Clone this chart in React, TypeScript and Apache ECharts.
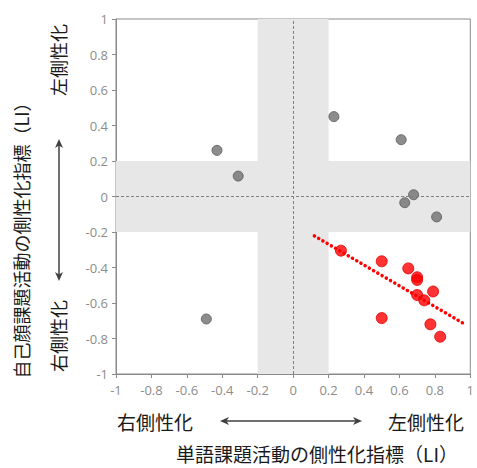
import React, { useEffect, useRef } from "react";
import * as echarts from "echarts";

const grayPoints: [number, number][] = [
  [-0.43, 0.26],
  [-0.31, 0.115],
  [0.23, 0.45],
  [0.61, 0.32],
  [0.68, 0.01],
  [0.63, -0.035],
  [0.81, -0.115],
  [-0.49, -0.69],
];

const redPoints: [number, number][] = [
  [0.27, -0.305],
  [0.5, -0.365],
  [0.65, -0.405],
  [0.7, -0.455],
  [0.7, -0.47],
  [0.79, -0.535],
  [0.7, -0.555],
  [0.74, -0.585],
  [0.5, -0.685],
  [0.775, -0.72],
  [0.83, -0.79],
];

const trendLine: [number, number][] = [
  [0.12, -0.222],
  [0.97, -0.72],
];

const neutralBand: [number, number] = [-0.2, 0.2];

const xTitle = "単語課題活動の側性化指標（LI）";
const yTitle = "自己顔課題活動の側性化指標（LI）";
const leftLabel = "左側性化";
const rightLabel = "右側性化";

const CJK = '"Noto Sans CJK JP", "Noto Sans", sans-serif';
const NUM = '"Open Sans", "Noto Sans", sans-serif';
const ARROW = "#404040";

function vArrow(x: number, y1: number, y2: number) {
  return [
    { type: "line", shape: { x1: x, y1: y1 + 4, x2: x, y2: y2 - 4 }, style: { stroke: ARROW, lineWidth: 1.5 } },
    { type: "polygon", shape: { points: [[x, y1], [x - 4, y1 + 9], [x, y1 + 6.5], [x + 4, y1 + 9]] }, style: { fill: ARROW } },
    { type: "polygon", shape: { points: [[x, y2], [x - 4, y2 - 9], [x, y2 - 6.5], [x + 4, y2 - 9]] }, style: { fill: ARROW } },
  ];
}

function hArrow(y: number, x1: number, x2: number) {
  return [
    { type: "line", shape: { x1: x1 + 4, y1: y, x2: x2 - 4, y2: y }, style: { stroke: ARROW, lineWidth: 1.5 } },
    { type: "polygon", shape: { points: [[x1, y], [x1 + 9, y - 4], [x1 + 6.5, y], [x1 + 9, y + 4]] }, style: { fill: ARROW } },
    { type: "polygon", shape: { points: [[x2, y], [x2 - 9, y - 4], [x2 - 6.5, y], [x2 - 9, y + 4]] }, style: { fill: ARROW } },
  ];
}

export default function App() {
  const ref = useRef<HTMLDivElement>(null);
  useEffect(() => {
    if (!ref.current) return;
    const chart = echarts.init(ref.current, undefined, { renderer: "svg" });
    const axisCommon = {
      type: "value",
      min: -1,
      max: 1,
      interval: 0.2,
      axisLine: { show: true, onZero: false, lineStyle: { color: "#8a8a8a", width: 1 } },
      axisTick: { show: true, length: 4, lineStyle: { color: "#8a8a8a" } },
      splitLine: { show: false },
      axisLabel: { color: "#8c8c8c", fontSize: 13, fontFamily: NUM, margin: 8 },
    };
    chart.setOption({
      animation: false,
      grid: {
        left: 116,
        right: 4,
        top: 19,
        bottom: 94,
        show: true,
        borderColor: "#8a8a8a",
        borderWidth: 1,
        backgroundColor: "transparent",
      },
      xAxis: { ...axisCommon, position: "bottom", axisLabel: { ...axisCommon.axisLabel, margin: 9 } },
      yAxis: { ...axisCommon, position: "left" },
      series: [
        {
          type: "scatter",
          data: [],
          z: 1,
          silent: true,
          markArea: {
            silent: true,
            itemStyle: { color: "#e7e7e7", opacity: 1 },
            data: [
              [{ xAxis: neutralBand[0] }, { xAxis: neutralBand[1] }],
              [{ yAxis: neutralBand[0] }, { yAxis: neutralBand[1] }],
            ],
          },
          markLine: {
            silent: true,
            symbol: ["none", "none"],
            label: { show: false },
            lineStyle: { color: "#808080", type: [3, 2], width: 1 },
            data: [{ xAxis: 0 }, { yAxis: 0 }],
          },
        },
        {
          type: "line",
          data: trendLine,
          z: 3,
          showSymbol: false,
          symbol: "none",
          lineStyle: { color: "#ff0000", width: 3.5, type: [0.1, 4.8], cap: "round" },
        },
        {
          type: "scatter",
          data: grayPoints,
          z: 4,
          symbolSize: 10,
          itemStyle: { color: "#707070", borderColor: "#575757", borderWidth: 1 },
        },
        {
          type: "scatter",
          data: redPoints,
          z: 5,
          symbolSize: 11,
          itemStyle: { color: "#ff0000", borderColor: "#e00000", borderWidth: 1 },
        },
      ],
      graphic: [
        {
          type: "text",
          x: 21,
          y: 236,
          rotation: Math.PI / 2,
          style: { text: yTitle, font: `18px ${CJK}`, fill: "#1a1a1a", align: "center", verticalAlign: "middle" },
        },
        {
          type: "text",
          x: 58,
          y: 60,
          rotation: Math.PI / 2,
          style: { text: leftLabel, font: `18px ${CJK}`, fill: "#1a1a1a", align: "center", verticalAlign: "middle" },
        },
        {
          type: "text",
          x: 58,
          y: 336,
          rotation: Math.PI / 2,
          style: { text: rightLabel, font: `18px ${CJK}`, fill: "#1a1a1a", align: "center", verticalAlign: "middle" },
        },
        {
          type: "text",
          x: 155,
          y: 421,
          style: { text: rightLabel, font: `19px ${CJK}`, fill: "#1a1a1a", align: "center", verticalAlign: "middle" },
        },
        {
          type: "text",
          x: 426,
          y: 421,
          style: { text: leftLabel, font: `19px ${CJK}`, fill: "#1a1a1a", align: "center", verticalAlign: "middle" },
        },
        {
          type: "text",
          x: 317,
          y: 453,
          style: { text: xTitle, font: `19px ${CJK}`, fill: "#1a1a1a", align: "center", verticalAlign: "middle" },
        },
        ...vArrow(59, 139, 281),
        ...hArrow(421, 220, 362),
      ],
    });
    return () => chart.dispose();
  }, []);
  return <div ref={ref} style={{ width: 477, height: 468, position: "absolute", left: 0, top: 0 }} />;
}
